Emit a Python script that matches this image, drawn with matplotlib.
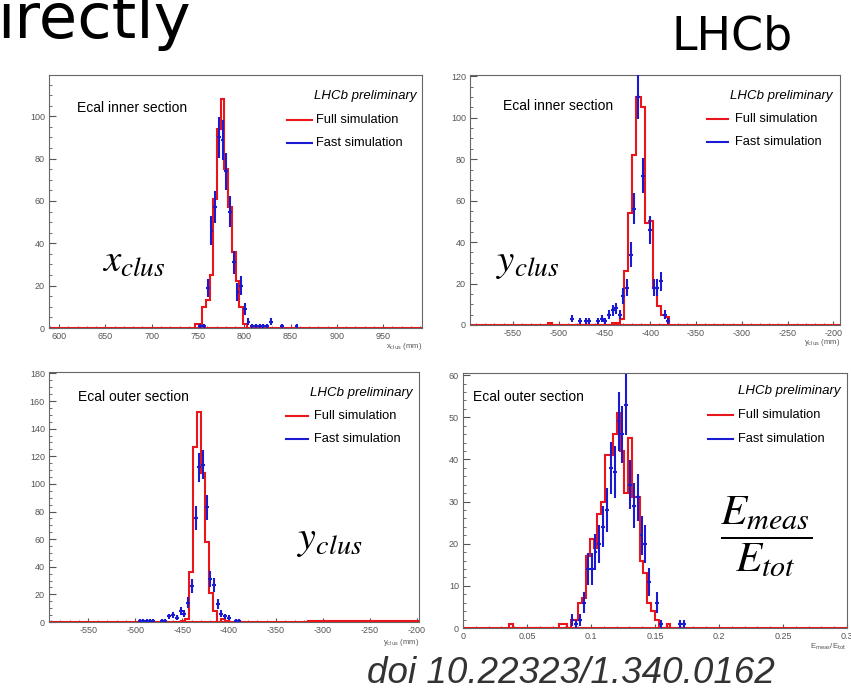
import numpy as np
import matplotlib.pyplot as plt
from matplotlib.lines import Line2D
from matplotlib.ticker import MultipleLocator, FuncFormatter

plt.rcParams['font.family'] = ['Liberation Sans', 'DejaVu Sans']
plt.rcParams['mathtext.fontset'] = 'stix'
plt.rcParams['axes.unicode_minus'] = False

W, H = 851, 692
RED = '#e8161b'
BLUE = '#1a1ad2'
GREY = '#555555'

# ---- panel 1: x_clus, inner section ----
p1_full_lo = 746.5
p1_full_w = 4.0
p1_full = [2, 2, 10, 13, 25, 61, 94, 108, 75, 57, 36, 22, 10, 2]
p1_fast_x = [752.5, 756.5, 760.5, 764.5, 768.5, 772.5, 776.5, 780.5, 784.5, 788.5, 792.5,
             796.5, 800.5, 804.5, 808.5, 812.5, 816.5, 820.5, 824.5, 828.5, 840.5, 856.5]
p1_fast_y = [1, 1, 19, 46, 57, 90, 89, 74, 55, 31, 17, 20, 9, 3, 1, 1, 1, 1, 1, 3, 1, 1]

# ---- panel 2: y_clus, inner section ----
p2_full_lo = -511.7
p2_full_w = 4.4
p2_full = [1, 0, 0, 0, 0, 0, 0, 0, 0, 0, 0, 0, 0, 0, 0, 0, 1, 1, 3,
           26, 54, 82, 110, 105, 49, 50, 18, 9, 5, 4]
p2_fast_x = [-485.6, -476.5, -470.3, -466.7, -456.5, -452.9, -449.2, -444.5, -440.9, -437.2,
             -432.9, -429.2, -425.6, -421.2, -417.2, -412.9, -407.4, -400.1, -395.8, -392.1,
             -388.5, -383.8, -380.1]
p2_fast_y = [3, 2, 2, 2, 2, 3, 2, 5, 7, 8, 5, 14, 18, 34, 56, 110, 72, 46, 18, 18, 21, 5, 2]

# ---- panel 3: y_clus, outer section ----
p3_full_lo = -451.5
p3_full_w = 4.25
p3_full = [1, 2, 36, 127, 152, 108, 58, 21, 8, 0, 2, 1]
p3_tail_edges = [-315.5, -196.5]
p3_tail = [1]
p3_fast_x = [-494.9, -491.4, -487.8, -484.3, -480.7, -471.8, -468.3, -463.6, -459.4, -455.8,
             -451.6, -448.0, -444.1, -439.8, -435.6, -431.7, -428.1, -423.8, -419.9, -416.0,
             -412.1, -408.2, -404.3, -400.4, -392.6, -389.0]
p3_fast_y = [1, 1, 1, 1, 1, 1, 1, 4, 5, 3, 8, 6, 14, 26, 75, 112, 114, 83, 31, 27,
             13, 6, 4, 3, 1, 1]

# ---- panel 4: E_meas / E_tot, outer section ----
p4_full_lo = 0.036
p4_full_w = 0.003
p4_full = [1, 0, 0, 0, 0, 0, 0, 0, 0, 0, 0, 0, 0, 1, 1, 0, 2, 2, 6, 7, 17, 21, 19, 27, 30,
           41, 41, 46, 51, 42, 32, 45, 31, 31, 16, 13, 6, 4, 2, 0, 0, 1]
p4_fast_x = [0.0855, 0.0885, 0.0915, 0.0945, 0.0975, 0.1005, 0.1035, 0.1065, 0.1095, 0.1125,
             0.1155, 0.1185, 0.1215, 0.1245, 0.1275, 0.1305, 0.1335, 0.1365, 0.1395, 0.1425,
             0.1455, 0.1515, 0.1545, 0.1695, 0.1725]
p4_fast_y = [2, 1, 2, 6, 14, 14, 18, 20, 24, 28, 38, 37, 49, 46, 53, 34, 29, 31, 22, 20,
             11, 6, 1, 1, 1]

fig = plt.figure(figsize=(W / 100, H / 100), dpi=100)


def box(l, t, r, b):
    return [l / W, 1 - b / H, (r - l) / W, (b - t) / H]


def fp(x, y):
    return x / W, 1 - y / H


def panel(rect, xlim, ylim, xstep, xminor, ystep, yminor,
          full_lo, full_w, full, fast_x, fast_y):
    ax = fig.add_axes(rect)
    edges = full_lo + full_w * np.arange(len(full) + 1)
    ax.axhline(0, color=RED, lw=1.5, zorder=2)
    ax.stairs(full, edges, color=RED, lw=1.5, zorder=3)
    fy = np.array(fast_y, dtype=float)
    ax.errorbar(fast_x, fy, xerr=full_w / 2, yerr=np.sqrt(fy), fmt='none',
                ecolor=BLUE, elinewidth=1.5, zorder=4)
    ax.set_xlim(*xlim)
    ax.set_ylim(*ylim)
    ax.xaxis.set_major_locator(MultipleLocator(xstep))
    ax.xaxis.set_minor_locator(MultipleLocator(xminor))
    ax.yaxis.set_major_locator(MultipleLocator(ystep))
    ax.yaxis.set_minor_locator(MultipleLocator(yminor))
    ax.xaxis.set_major_formatter(FuncFormatter(lambda v, p: '%g' % round(v, 4)))
    ax.yaxis.set_major_formatter(FuncFormatter(lambda v, p: '%g' % v))
    ax.tick_params(axis='both', which='both', direction='in', colors=GREY,
                   labelsize=6.5, top=False, right=False)
    ax.tick_params(axis='x', which='major', length=3, pad=3)
    ax.tick_params(axis='x', which='minor', length=1.5)
    ax.tick_params(axis='y', which='major', length=5, pad=3)
    ax.tick_params(axis='y', which='minor', length=2.5)
    for s in ax.spines.values():
        s.set_color('#666666')
        s.set_linewidth(0.8)
    return ax


def legend(title_right, title_y, line_l, line_r, text_l, y_full, y_fast):
    fig.text(*fp(title_right, title_y), 'LHCb preliminary', ha='right', va='center',
             fontsize=9.5, style='italic')
    for y, c, lab in [(y_full, RED, 'Full simulation'), (y_fast, BLUE, 'Fast simulation')]:
        fig.add_artist(Line2D([line_l / W, line_r / W], [1 - y / H, 1 - y / H],
                              color=c, lw=1.5, transform=fig.transFigure))
        fig.text(*fp(text_l, y), lab, ha='left', va='center', fontsize=9.3)


def xlabel(right, y, s):
    fig.text(*fp(right, y), s, ha='right', va='center', fontsize=5.5, color=GREY,
             math_fontfamily='dejavusans')


ax1 = panel(box(49, 75, 422, 328), (589, 992), (0, 119.5), 50, 10, 20, 5,
            p1_full_lo, p1_full_w, p1_full, p1_fast_x, p1_fast_y)
ax2 = panel(box(470, 75, 840, 325), (-596.6, -192.8), (0, 120.6), 50, 10, 20, 5,
            p2_full_lo, p2_full_w, p2_full, p2_fast_x, p2_fast_y)
ax3 = panel(box(49, 372, 419, 622), (-592, -197.5), (0, 181), 50, 10, 20, 5,
            p3_full_lo, p3_full_w, p3_full, p3_fast_x, p3_fast_y)
ax3.stairs(p3_tail, p3_tail_edges, color=RED, lw=1.5, zorder=3)
ax4 = panel(box(463, 373, 847, 628), (0, 0.3), (0, 60.5), 0.05, 0.01, 10, 2,
            p4_full_lo, p4_full_w, p4_full, p4_fast_x, p4_fast_y)

legend(416, 96, 287, 312, 316, 120, 143)
legend(833, 96, 707, 728, 735, 119, 142)
legend(413, 393, 286, 308, 314, 416, 439)
legend(840, 391, 708, 733, 738, 415, 439)

fig.text(*fp(77, 108), 'Ecal inner section', ha='left', va='center', fontsize=10)
fig.text(*fp(503, 106), 'Ecal inner section', ha='left', va='center', fontsize=10)
fig.text(*fp(78, 397), 'Ecal outer section', ha='left', va='center', fontsize=10)
fig.text(*fp(473, 397), 'Ecal outer section', ha='left', va='center', fontsize=10)

fig.text(*fp(102, 262), r'$x_{clus}$', ha='left', va='center', fontsize=28)
fig.text(*fp(496, 263), r'$y_{clus}$', ha='left', va='center', fontsize=28)
fig.text(*fp(297, 540), r'$y_{clus}$', ha='left', va='center', fontsize=29)
fig.text(*fp(766, 537), r'$\dfrac{E_{meas}}{E_{tot}}$', ha='center', va='center', fontsize=31)

xlabel(422, 347, r'x$_{\rm clus}$ (mm)')
xlabel(840, 343, r'y$_{\rm clus}$ (mm)')
xlabel(419, 642, r'y$_{\rm clus}$ (mm)')
xlabel(847, 647, r'E$_{\rm meas}$/E$_{\rm tot}$')

fig.text(*fp(-3, 38), 'irectly', ha='left', va='baseline', fontsize=45, family='DejaVu Sans')
fig.text(*fp(671, 50), 'LHCb', ha='left', va='baseline', fontsize=33, family='DejaVu Sans')
fig.text(*fp(367, 683), 'doi 10.22323/1.340.0162', ha='left', va='baseline',
         fontsize=26.5, style='italic', color='#333333')

fig.savefig('out.png', dpi=100)
